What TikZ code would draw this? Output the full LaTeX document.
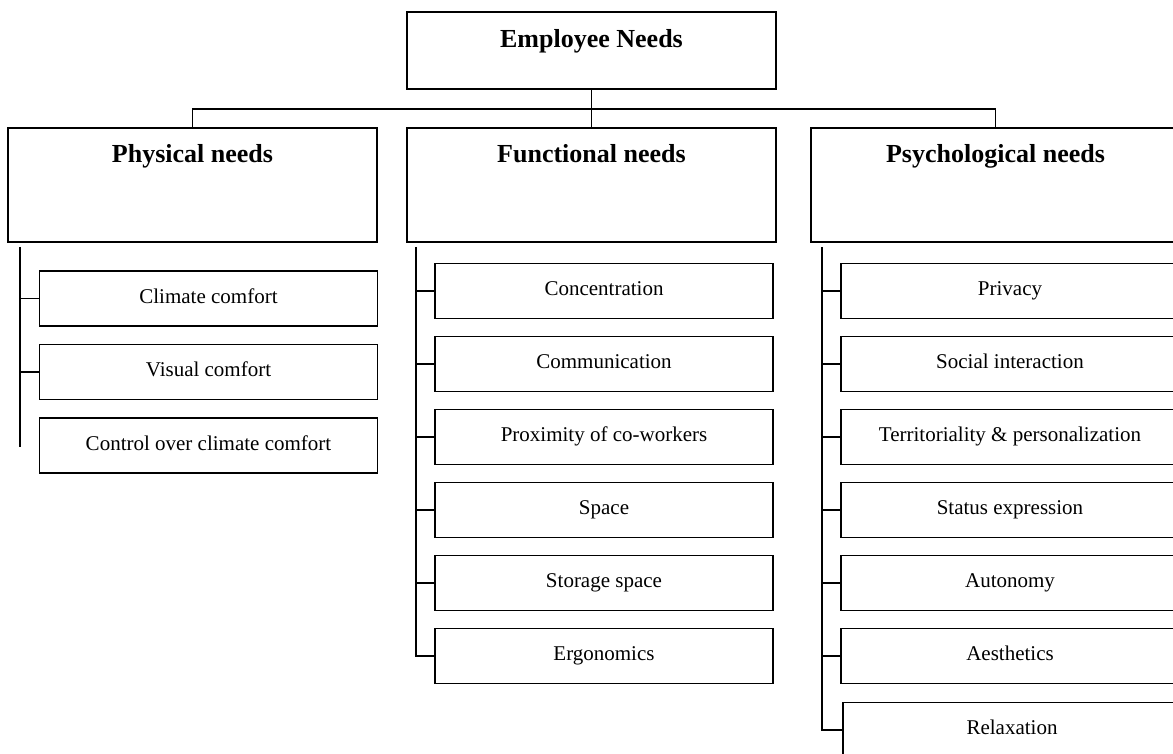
\documentclass[tikz,border=0pt]{standalone}
\usepackage{fontspec}
\setmainfont{Liberation Serif}
\begin{document}
\begin{tikzpicture}[x=1pt, y=-1pt, line width=1.7pt,
  headbox/.style={draw, inner sep=0pt, minimum width=369pt, text height=35pt, text depth=79pt, font=\fontsize{26}{30}\selectfont\bfseries},
  itembox/.style={draw, inner sep=0pt, minimum width=338pt, text height=32pt, text depth=23pt, font=\fontsize{21}{25}\selectfont}]
\path[use as bounding box, clip] (0,0) rectangle (1173,754);
% top level
\node[headbox, text height=36pt, text depth=41pt] (root) at (591.5, 50.5) {Employee Needs};
\node[headbox] (phys)  at (192.5, 185) {Physical needs};
\node[headbox] (func)  at (591.5, 185) {Functional needs};
\node[headbox] (psych) at (995.5, 185) {Psychological needs};
\coordinate (bus) at (591.5, 109);
\draw (root.south) -- (func.north);
\draw (phys.north) |- (bus) -| (psych.north);
% physical needs
\node[itembox] (climate) at (208.5, 298.5) {Climate comfort};
\node[itembox] (visual)  at (208.5, 372)   {Visual comfort};
\node[itembox] (control) at (208.5, 445.5) {Control over climate comfort};
\coordinate (physTop) at (20, 247);
\coordinate (physEnd) at (20, 447);
\draw (physTop) -- (physEnd);
\draw (physTop |- climate.west) -- (climate.west);
\draw (physTop |- visual.west)  -- (visual.west);
% functional needs
\node[itembox] (conc)    at (604, 291) {Concentration};
\node[itembox] (comm)    at (604, 364) {Communication};
\node[itembox] (prox)    at (604, 437) {Proximity of co-workers};
\node[itembox] (space)   at (604, 510) {Space};
\node[itembox] (storage) at (604, 583) {Storage space};
\node[itembox] (ergo)    at (604, 656) {Ergonomics};
\coordinate (funcTop) at (416, 247);
\draw (funcTop) |- (ergo.west);
\draw (funcTop |- conc.west)    -- (conc.west);
\draw (funcTop |- comm.west)    -- (comm.west);
\draw (funcTop |- prox.west)    -- (prox.west);
\draw (funcTop |- space.west)   -- (space.west);
\draw (funcTop |- storage.west) -- (storage.west);
% psychological needs
\node[itembox] (privacy)  at (1010, 291) {Privacy};
\node[itembox] (social)   at (1010, 364) {Social interaction};
\node[itembox] (terr)     at (1010, 437) {Territoriality \& personalization};
\node[itembox] (status)   at (1010, 510) {Status expression};
\node[itembox] (autonomy) at (1010, 583) {Autonomy};
\node[itembox] (aesth)    at (1010, 656) {Aesthetics};
\node[itembox] (relax)    at (1012, 730) {Relaxation};
\coordinate (psychTop) at (822, 247);
\draw (psychTop) |- (relax.west);
\draw (psychTop |- privacy.west)  -- (privacy.west);
\draw (psychTop |- social.west)   -- (social.west);
\draw (psychTop |- terr.west)     -- (terr.west);
\draw (psychTop |- status.west)   -- (status.west);
\draw (psychTop |- autonomy.west) -- (autonomy.west);
\draw (psychTop |- aesth.west)    -- (aesth.west);
\end{tikzpicture}
\end{document}
